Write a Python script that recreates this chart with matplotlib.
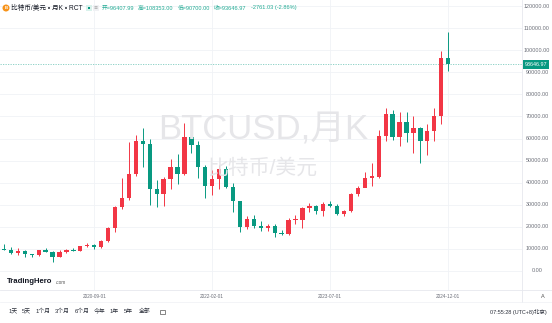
import matplotlib
matplotlib.use("Agg")
import matplotlib.pyplot as plt
from matplotlib import transforms
from matplotlib.patches import Ellipse, Rectangle

# ---------------- data ----------------
months = ["2019-08", "2019-09", "2019-10", "2019-11", "2019-12",
          "2020-01", "2020-02", "2020-03", "2020-04", "2020-05", "2020-06",
          "2020-07", "2020-08", "2020-09", "2020-10", "2020-11", "2020-12",
          "2021-01", "2021-02", "2021-03", "2021-04", "2021-05", "2021-06",
          "2021-07", "2021-08", "2021-09", "2021-10", "2021-11", "2021-12",
          "2022-01", "2022-02", "2022-03", "2022-04", "2022-05", "2022-06",
          "2022-07", "2022-08", "2022-09", "2022-10", "2022-11", "2022-12",
          "2023-01", "2023-02", "2023-03", "2023-04", "2023-05", "2023-06",
          "2023-07", "2023-08", "2023-09", "2023-10", "2023-11", "2023-12",
          "2024-01", "2024-02", "2024-03", "2024-04", "2024-05", "2024-06",
          "2024-07", "2024-08", "2024-09", "2024-10", "2024-11", "2024-12"]

opens = [10080, 9590, 8290, 9150, 7540,
         7190, 9350, 8540, 6410, 8630, 9450,
         9140, 11350, 11680, 10780, 13800, 19700,
         28990, 33110, 43800, 58800, 57700, 37300,
         35040, 41460, 47100, 43800, 60600, 57000,
         47300, 38300, 41500, 46000, 38000, 31800,
         19900, 23500, 20200, 19500, 20600, 17200,
         16600, 23200, 23300, 28500, 29300, 27200,
         30500, 29300, 25900, 27000, 34700, 37700,
         42300, 42600, 61200, 71000, 60700, 67500,
         62700, 64600, 59000, 63300, 70200, 96407.99]

highs = [12330, 10900, 10370, 9510, 7750,
         9570, 10500, 9190, 9460, 10070, 10380,
         11440, 12470, 12070, 14100, 19920, 29300,
         41950, 58350, 61780, 64850, 59600, 41330,
         42400, 50500, 52900, 67000, 69000, 59100,
         48000, 45800, 48200, 47400, 40000, 31900,
         24700, 25200, 22800, 21100, 21500, 18400,
         23950, 25250, 29200, 31000, 29800, 31400,
         31800, 30200, 27500, 35200, 38400, 44700,
         48970, 63900, 73800, 72800, 71950, 71950,
         70000, 65100, 66500, 73600, 99800, 108353.00]

lows = [9380, 7750, 7300, 6520, 6430,
        6860, 8440, 3850, 6150, 8120, 8930,
        8990, 10950, 9880, 10380, 13200, 17600,
        28130, 32300, 42800, 47000, 30000, 28800,
        29300, 37330, 39600, 43300, 53250, 42000,
        32900, 34300, 37200, 37700, 26700, 17600,
        18800, 19600, 18200, 18200, 15500, 16300,
        16500, 21400, 19600, 26900, 25800, 24800,
        28900, 25200, 24900, 26550, 34100, 40200,
        38500, 41900, 59000, 59200, 56550, 58400,
        53500, 49000, 52600, 58900, 66800, 90700.00]

closes = [9590, 8290, 9150, 7540, 7190,
          9350, 8540, 6410, 8630, 9450, 9140,
          11350, 11680, 10780, 13800, 19700, 28990,
          33110, 43800, 58800, 57700, 37300, 35040,
          41460, 47100, 43800, 60600, 57000, 47300,
          38300, 41500, 46000, 38000, 31800, 19900,
          23500, 20200, 19500, 20600, 17200, 16600,
          23200, 23300, 28500, 29300, 27200, 30500,
          29300, 25900, 27000, 34700, 37700, 42300,
          42600, 61200, 71000, 60700, 67500, 62700,
          64600, 59000, 63300, 70200, 96407.99, 93646.97]

x_tick_labels = ["2020-09-01", "2022-02-01", "2023-07-01", "2024-12-01"]
x_tick_months = ["2020-09", "2022-02", "2023-07", "2024-12"]
price_ticks = [0, 10000, 20000, 30000, 40000, 50000, 60000, 70000,
               80000, 90000, 100000, 110000, 120000]
last_price = 93646.97
header_title = "比特币/美元 • 月K • RCT"
header_ohlc = ["开=96407.99", "高=108353.00", "低=90700.00", "收=93646.97",
               "-2761.03 (-2.86%)"]
toolbar_labels = ["1天", "5天", "1个月", "3个月", "6个月", "今年", "1年", "5年", "全部"]

# ---------------- style ----------------
UP = "#f23645"
DOWN = "#089981"
GRID = "#f0f2f6"
AXISTXT = "#6b6e78"
CJK = ["Liberation Sans", "Noto Sans CJK SC", "DejaVu Sans"]

W, H = 552, 323
fig = plt.figure(figsize=(W / 100, H / 100), dpi=100)
fig.patch.set_facecolor("white")

plot_bottom_px = 290
plot_right_px = 522
ax = fig.add_axes([0, 1 - plot_bottom_px / H, plot_right_px / W, plot_bottom_px / H])
ax.set_facecolor("white")
for s in ax.spines.values():
    s.set_visible(False)
ax.set_xticks([])
ax.set_yticks([])

# pixel mapping used to set the view limits
step_px = 6.94
x0_px = 4.0
ax.set_xlim(-x0_px / step_px, (plot_right_px - x0_px) / step_px)
zero_px = 271.0
px_per_unit = 22.08 / 10000
ax.set_ylim((zero_px - plot_bottom_px) / px_per_unit, zero_px / px_per_unit)

# grid
for v in price_ticks:
    ax.axhline(v, color=GRID, lw=0.6, zorder=0)
idx = list(range(len(months)))
for m in x_tick_months:
    ax.axvline(months.index(m), color=GRID, lw=0.6, zorder=0)

# watermark
fig.text(263 / W, 1 - 140 / H, "BTCUSD,月K", fontsize=25, color="#e6e6e9",
         ha="center", va="baseline", family=CJK, zorder=0.5)
fig.text(262 / W, 1 - 167.5 / H, "比特币/美元", fontsize=15, color="#e6e6e9",
         ha="center", va="center", family=CJK, zorder=0.5)

# candles
colors = [UP if c >= o else DOWN for o, c in zip(opens, closes)]
bottoms = [min(o, c) for o, c in zip(opens, closes)]
heights = [max(abs(c - o), 500) for o, c in zip(opens, closes)]
ax.vlines(idx, lows, highs, colors=colors, lw=0.7, zorder=3)
ax.bar(idx, heights, bottom=bottoms, width=0.62, color=colors, linewidth=0, zorder=4)

# last price line
ax.axhline(last_price, color="#7fcbbf", lw=0.6, ls=(0, (1.5, 1.5)), zorder=2)

# separators
fig.add_artist(plt.Line2D([0, 1], [1 - plot_bottom_px / H] * 2, color="#e6e8ee", lw=0.6))
fig.add_artist(plt.Line2D([plot_right_px / W] * 2, [1 - 302 / H, 1], color="#e6e8ee", lw=0.6))
fig.add_artist(plt.Line2D([0, 1], [1 - 302 / H] * 2, color="#eef0f4", lw=0.5))

# price labels
ytr = transforms.blended_transform_factory(fig.transFigure, ax.transData)
for v in price_ticks:
    ax.text(537 / W, v, f"{v:.2f}", transform=ytr, fontsize=3.9, color=AXISTXT,
            ha="center", va="center", family="Liberation Sans", clip_on=False)
ax.text(536 / W, last_price, f"{last_price:.2f}", transform=ytr, fontsize=3.9,
        color="white", ha="center", va="center", family="Liberation Sans",
        clip_on=False, zorder=10,
        bbox=dict(boxstyle="square,pad=0.35", fc=DOWN, ec="none"))

# date labels
xtr = transforms.blended_transform_factory(ax.transData, fig.transFigure)
for m, lab in zip(x_tick_months, x_tick_labels):
    ax.text(months.index(m), 1 - 296.5 / H, lab, transform=xtr, fontsize=3.4,
            color=AXISTXT, ha="center", va="center", family="Liberation Sans",
            clip_on=False)
fig.text(543 / W, 1 - 296.5 / H, "A", fontsize=4, color="#555", ha="center",
         va="center", family="Liberation Sans")

# header
fig.add_artist(Ellipse((6 / W, 1 - 8 / H), 7 / W, 7 / H, transform=fig.transFigure,
                       fc="#f7931a", ec="none"))
fig.text(6 / W, 1 - 8 / H, "B", fontsize=3.2, color="white", ha="center",
         va="center", weight="bold", family="Liberation Sans")
fig.text(11 / W, 1 - 8 / H, header_title, fontsize=4.8, color="#131722",
         ha="left", va="center", family=CJK)
fig.add_artist(Rectangle((86 / W, 1 - 11 / H), 6 / W, 6 / H, transform=fig.transFigure,
                         fc="#d9f2ec", ec="none"))
fig.add_artist(Rectangle((88 / W, 1 - 9 / H), 2 / W, 2 / H, transform=fig.transFigure,
                         fc=DOWN, ec="none"))
fig.add_artist(Rectangle((93 / W, 1 - 11 / H), 6 / W, 6 / H, transform=fig.transFigure,
                         fc="#f0f1f4", ec="none"))
fig.text(96 / W, 1 - 8 / H, "≡", fontsize=3.5, color="#999", ha="center", va="center")
ohlc_x = [101.7, 137.7, 178.0, 214.0, 250.7]
for xp, t in zip(ohlc_x, header_ohlc):
    fig.text(xp / W, 1 - 8 / H, t, fontsize=4.1, color="#22ab94", ha="left",
             va="center", family=CJK)

# logo
fig.text(7 / W, 1 - 281.5 / H, "TradingHero", fontsize=5.6, weight="bold",
         color="#131722", ha="left", va="center", family="Liberation Sans")
fig.text(56 / W, 1 - 283 / H, ".com", fontsize=3.3, color="#555",
         ha="left", va="center", family="Liberation Sans")

# toolbar
tb_x = [8.9, 22.0, 35.5, 55.0, 74.6, 94.0, 109.5, 123.7, 138.6]
for xp, t in zip(tb_x, toolbar_labels):
    fig.text(xp / W, 1 - 311.7 / H, t, fontsize=4.2, color="#2a2e39", ha="left",
             va="center", family=CJK)
fig.add_artist(Rectangle((159.5 / W, 1 - 314 / H), 5 / W, 4.5 / H,
                         transform=fig.transFigure, fc="none", ec="#555", lw=0.5))
fig.text(490.5 / W, 1 - 311.7 / H, "07:55:28 (UTC+8)北京)", fontsize=4.0,
         color="#2a2e39", ha="left", va="center", family=CJK)

fig.savefig("out.png", dpi=100, facecolor="white")
